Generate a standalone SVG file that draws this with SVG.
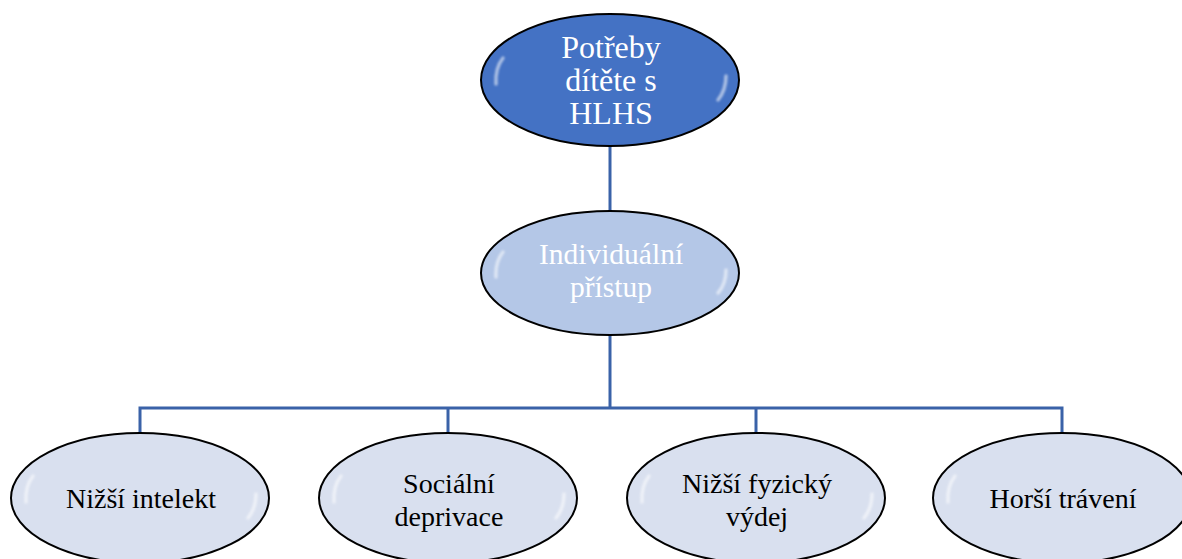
<svg xmlns="http://www.w3.org/2000/svg" width="1182" height="559" viewBox="0 0 1182 559">
<defs>
<style>
.node{stroke:#000;stroke-width:2}
.top{fill:#4472C4}
.mid{fill:#B4C7E7}
.leaf{fill:#D9E0EF}
.hl{fill:none;stroke:#fff;stroke-width:3.5;stroke-linecap:round;opacity:0.55;filter:url(#blur)}
.t{font-family:"Liberation Serif","Times New Roman",serif;text-anchor:middle}
.tw{fill:#fff}
.tb{fill:#000}
.conn{fill:none;stroke:#3A62A8;stroke-width:3}
</style>
<filter id="blur" x="-50%" y="-50%" width="200%" height="200%"><feGaussianBlur stdDeviation="1.3"/></filter>
</defs>
<rect width="1182" height="559" fill="#fff"/>
<g id="connectors">
<path class="conn" d="M610 146V212"/>
<path class="conn" d="M610 335V408"/>
<path class="conn" d="M140 434V408H1062V434"/>
<path class="conn" d="M448 408V434"/>
<path class="conn" d="M756 408V434"/>
</g>
<g id="n-root">
<ellipse class="node top" cx="610" cy="80" rx="129" ry="66"/>
<path class="hl" d="M496 84Q495 68 503 58"/>
<path class="hl" d="M726 76Q726 90 718 100"/>
<text class="t tw" font-size="32"><tspan x="611" y="58">Potřeby</tspan><tspan x="611" y="91">dítěte s</tspan><tspan x="611" y="124">HLHS</tspan></text>
</g>
<g id="n-ind">
<ellipse class="node mid" cx="610" cy="273" rx="129" ry="62"/>
<path class="hl" d="M496 277Q495 262 503 252"/>
<path class="hl" d="M726 270Q726 284 718 293"/>
<text class="t tw" font-size="29.5"><tspan x="611" y="264">Individuální</tspan><tspan x="611" y="297">přístup</tspan></text>
</g>
<g id="n-1">
<ellipse class="node leaf" cx="140" cy="498" rx="129" ry="65"/>
<path class="hl" d="M26 502Q25 486 33 476"/>
<path class="hl" d="M256 494Q256 508 248 518"/>
<text class="t tb" font-size="28" x="141" y="508">Nižší intelekt</text>
</g>
<g id="n-2">
<ellipse class="node leaf" cx="448" cy="498" rx="129" ry="65"/>
<path class="hl" d="M334 502Q333 486 341 476"/>
<path class="hl" d="M564 494Q564 508 556 518"/>
<text class="t tb" font-size="28"><tspan x="449" y="493">Sociální</tspan><tspan x="449" y="526">deprivace</tspan></text>
</g>
<g id="n-3">
<ellipse class="node leaf" cx="756" cy="498" rx="129" ry="65"/>
<path class="hl" d="M642 502Q641 486 649 476"/>
<path class="hl" d="M872 494Q872 508 864 518"/>
<text class="t tb" font-size="28"><tspan x="757" y="493">Nižší fyzický</tspan><tspan x="757" y="526">výdej</tspan></text>
</g>
<g id="n-4">
<ellipse class="node leaf" cx="1062" cy="498" rx="129" ry="65"/>
<path class="hl" d="M948 502Q947 486 955 476"/>
<text class="t tb" font-size="28" x="1063" y="508">Horší trávení</text>
</g>
</svg>
